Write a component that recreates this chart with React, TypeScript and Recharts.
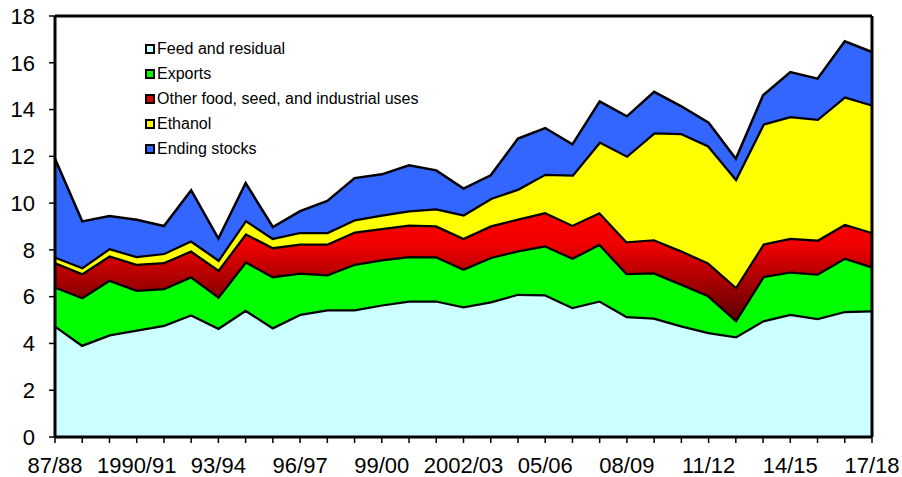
import React from 'react';
import { AreaChart, Area, XAxis, YAxis, ReferenceLine } from 'recharts';

const years = [
  '87/88', '88/89', '89/90', '1990/91', '91/92', '92/93', '93/94', '94/95', '95/96', '96/97',
  '97/98', '98/99', '99/00', '2000/01', '01/02', '2002/03', '03/04', '04/05', '05/06', '06/07',
  '07/08', '08/09', '09/10', '10/11', '11/12', '12/13', '13/14', '14/15', '15/16', '16/17', '17/18',
];

const feedResidual = [
  4.78, 3.95, 4.39, 4.6, 4.8, 5.25, 4.68, 5.45, 4.7, 5.27,
  5.46, 5.46, 5.67, 5.84, 5.84, 5.59, 5.8, 6.13, 6.1, 5.56,
  5.84, 5.17, 5.11, 4.78, 4.49, 4.31, 4.99, 5.27, 5.09, 5.39, 5.42,
];
const exportsVals = [
  1.66, 2.04, 2.34, 1.7, 1.57, 1.63, 1.34, 2.07, 2.18, 1.76,
  1.5, 1.95, 1.93, 1.9, 1.89, 1.61, 1.9, 1.85, 2.1, 2.11,
  2.43, 1.84, 1.93, 1.78, 1.57, 0.71, 1.89, 1.81, 1.9, 2.28, 1.88,
];
const otherUses = [
  1.04, 1.02, 1.04, 1.11, 1.11, 1.1, 1.15, 1.2, 1.24, 1.24,
  1.31, 1.38, 1.34, 1.35, 1.32, 1.32, 1.35, 1.36, 1.42, 1.41,
  1.35, 1.36, 1.42, 1.42, 1.4, 1.42, 1.39, 1.44, 1.45, 1.45, 1.47,
];
const ethanol = [
  0.24, 0.26, 0.31, 0.33, 0.39, 0.43, 0.43, 0.57, 0.4, 0.5,
  0.5, 0.52, 0.57, 0.6, 0.73, 1.0, 1.17, 1.28, 1.64, 2.14,
  3.02, 3.67, 4.57, 5.02, 5.01, 4.63, 5.13, 5.2, 5.17, 5.45, 5.45,
];
const endingStocks = [
  4.18, 1.95, 1.37, 1.55, 1.15, 2.14, 0.88, 1.57, 0.46, 0.89,
  1.32, 1.76, 1.72, 1.93, 1.62, 1.1, 0.97, 2.14, 1.95, 1.29,
  1.71, 1.67, 1.73, 1.14, 0.97, 0.83, 1.21, 1.88, 1.71, 2.35, 2.24,
];

const yTicks = [0, 2, 4, 6, 8, 10, 12, 14, 16, 18];

const series = [
  { key: 'feed', name: 'Feed and residual', color: '#CCFFFF', legend: '#CCFFFF' },
  { key: 'exports', name: 'Exports', color: '#00FF00', legend: '#00FF00' },
  { key: 'other', name: 'Other food, seed, and industrial uses', color: 'url(#redFade)', legend: '#E00000' },
  { key: 'ethanol', name: 'Ethanol', color: '#FFFF00', legend: '#FFFF00' },
  { key: 'stocks', name: 'Ending stocks', color: '#3366FF', legend: '#3366FF' },
];

const data = years.map((name, i) => ({
  name,
  feed: feedResidual[i],
  exports: exportsVals[i],
  other: otherUses[i],
  ethanol: ethanol[i],
  stocks: endingStocks[i],
}));

const FONT = '"Liberation Sans", Arial, sans-serif';

// only every third year gets a label, but every year keeps its tick mark
const YearTick = (props: any) => {
  const { x, y, payload } = props;
  const idx = years.indexOf(payload?.value);
  if (idx % 3 !== 0) return null;
  return (
    <text x={x} y={y} dy="0.71em" textAnchor="middle" fontSize={22} fill="#000" fontFamily={FONT}>
      {payload.value}
    </text>
  );
};

const LegendBox = () => (
  <div
    style={{
      position: 'absolute',
      left: 145,
      top: 36,
      fontFamily: FONT,
      fontSize: 16,
      color: '#000',
      lineHeight: '25px',
    }}
  >
    {series.map((s) => (
      <div key={s.key} style={{ display: 'flex', alignItems: 'center', height: 25 }}>
        <span
          style={{
            width: 6,
            height: 6,
            border: '2px solid #000',
            background: s.legend,
            marginRight: 2,
          }}
        />
        <span>{s.name}</span>
      </div>
    ))}
  </div>
);

export default function App() {
  return (
    <div style={{ position: 'absolute', left: 0, top: 0, width: 902, height: 477, background: '#fff' }}>
      <AreaChart
        width={902}
        height={477}
        data={data}
        margin={{ top: 16, right: 30, left: 0, bottom: 0 }}
        style={{ fontFamily: FONT }}
      >
        <defs>
          <linearGradient id="redFade" x1="0" y1="0" x2="0" y2="1">
            <stop offset="0%" stopColor="#FF0000" />
            <stop offset="30%" stopColor="#F00000" />
            <stop offset="100%" stopColor="#5E0000" />
          </linearGradient>
        </defs>
        <XAxis
          dataKey="name"
          interval={0}
          tick={<YearTick />}
          tickSize={6}
          tickMargin={14}
          height={40}
          axisLine={{ stroke: '#000', strokeWidth: 3 }}
          tickLine={{ stroke: '#000', strokeWidth: 1.5 }}
        />
        <YAxis
          domain={[0, 18]}
          ticks={yTicks}
          width={55}
          tickSize={6}
          tickMargin={14}
          tick={{ fontSize: 22, fill: '#000', fontFamily: FONT }}
          axisLine={{ stroke: '#000', strokeWidth: 3 }}
          tickLine={{ stroke: '#000', strokeWidth: 1.5 }}
        />
        {series.map((s, i) => (
          <Area
            key={s.key}
            type="linear"
            dataKey={s.key}
            name={s.name}
            stackId="use"
            fill={s.color}
            fillOpacity={1}
            stroke="#000"
            strokeWidth={i === series.length - 1 ? 2.5 : 4.5}
            dot={false}
            activeDot={false}
            isAnimationActive={false}
          />
        ))}
        <ReferenceLine y={18} stroke="#000" strokeWidth={3} />
        <ReferenceLine x="17/18" stroke="#000" strokeWidth={3} />
      </AreaChart>
      <LegendBox />
    </div>
  );
}
